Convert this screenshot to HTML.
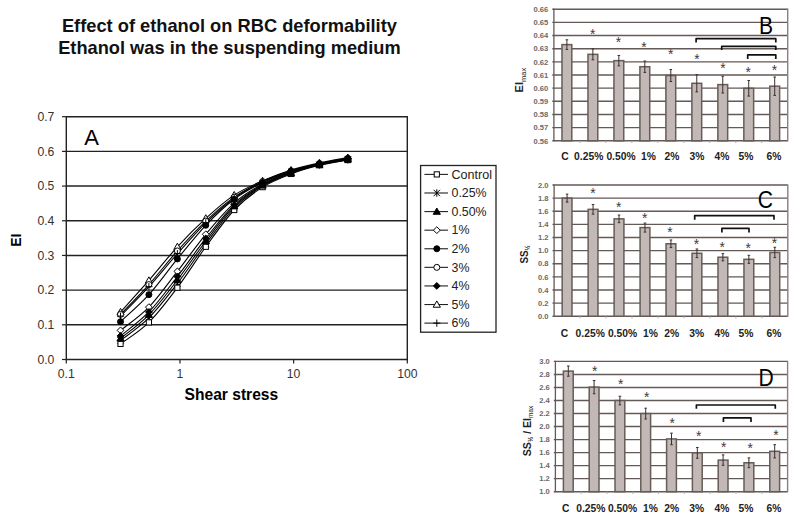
<!DOCTYPE html>
<html><head><meta charset="utf-8"><style>
html,body{margin:0;padding:0;background:#fff;}
svg{display:block;font-family:"Liberation Sans", sans-serif;}
</style></head><body>
<svg width="800" height="522" viewBox="0 0 800 522">
<rect width="800" height="522" fill="#fff"/>
<line x1="66.3" y1="324.81" x2="407.3" y2="324.81" stroke="#222" stroke-width="1.4"/>
<line x1="66.3" y1="290.13" x2="407.3" y2="290.13" stroke="#222" stroke-width="1.4"/>
<line x1="66.3" y1="255.44" x2="407.3" y2="255.44" stroke="#222" stroke-width="1.4"/>
<line x1="66.3" y1="220.76" x2="407.3" y2="220.76" stroke="#222" stroke-width="1.4"/>
<line x1="66.3" y1="186.07" x2="407.3" y2="186.07" stroke="#222" stroke-width="1.4"/>
<line x1="66.3" y1="151.39" x2="407.3" y2="151.39" stroke="#222" stroke-width="1.4"/>
<line x1="66.3" y1="116.70" x2="407.3" y2="116.70" stroke="#222" stroke-width="1.4"/>
<line x1="66.3" y1="116.0" x2="66.3" y2="360.2" stroke="#222" stroke-width="1.4"/>
<line x1="407.3" y1="116.0" x2="407.3" y2="360.2" stroke="#222" stroke-width="1.4"/>
<line x1="66.3" y1="359.5" x2="407.3" y2="359.5" stroke="#222" stroke-width="1.4"/>
<line x1="62.0" y1="359.50" x2="66.3" y2="359.50" stroke="#222" stroke-width="1.2"/>
<text x="54.4" y="363.80" text-anchor="end" font-size="12.2" fill="#333">0.0</text>
<line x1="62.0" y1="324.81" x2="66.3" y2="324.81" stroke="#222" stroke-width="1.2"/>
<text x="54.4" y="329.11" text-anchor="end" font-size="12.2" fill="#333">0.1</text>
<line x1="62.0" y1="290.13" x2="66.3" y2="290.13" stroke="#222" stroke-width="1.2"/>
<text x="54.4" y="294.43" text-anchor="end" font-size="12.2" fill="#333">0.2</text>
<line x1="62.0" y1="255.44" x2="66.3" y2="255.44" stroke="#222" stroke-width="1.2"/>
<text x="54.4" y="259.74" text-anchor="end" font-size="12.2" fill="#333">0.3</text>
<line x1="62.0" y1="220.76" x2="66.3" y2="220.76" stroke="#222" stroke-width="1.2"/>
<text x="54.4" y="225.06" text-anchor="end" font-size="12.2" fill="#333">0.4</text>
<line x1="62.0" y1="186.07" x2="66.3" y2="186.07" stroke="#222" stroke-width="1.2"/>
<text x="54.4" y="190.37" text-anchor="end" font-size="12.2" fill="#333">0.5</text>
<line x1="62.0" y1="151.39" x2="66.3" y2="151.39" stroke="#222" stroke-width="1.2"/>
<text x="54.4" y="155.69" text-anchor="end" font-size="12.2" fill="#333">0.6</text>
<line x1="62.0" y1="116.70" x2="66.3" y2="116.70" stroke="#222" stroke-width="1.2"/>
<text x="54.4" y="121.00" text-anchor="end" font-size="12.2" fill="#333">0.7</text>
<line x1="66.30" y1="359.5" x2="66.30" y2="363.5" stroke="#222" stroke-width="1.2"/>
<text x="66.30" y="378.2" text-anchor="middle" font-size="12.2" fill="#333">0.1</text>
<line x1="179.97" y1="359.5" x2="179.97" y2="363.5" stroke="#222" stroke-width="1.2"/>
<text x="179.97" y="378.2" text-anchor="middle" font-size="12.2" fill="#333">1</text>
<line x1="293.63" y1="359.5" x2="293.63" y2="363.5" stroke="#222" stroke-width="1.2"/>
<text x="293.63" y="378.2" text-anchor="middle" font-size="12.2" fill="#333">10</text>
<line x1="407.30" y1="359.5" x2="407.30" y2="363.5" stroke="#222" stroke-width="1.2"/>
<text x="407.30" y="378.2" text-anchor="middle" font-size="12.2" fill="#333">100</text>
<path d="M120.53,343.89 C125.26,340.31 139.43,331.75 148.90,322.39 C158.38,313.02 167.90,300.30 177.38,287.70 C186.86,275.10 196.31,259.72 205.78,246.77 C215.25,233.82 224.73,219.95 234.20,210.00 C243.66,200.06 253.10,193.12 262.57,187.11 C272.05,181.10 281.57,177.57 291.05,173.93 C300.53,170.29 309.98,167.57 319.45,165.26 C328.92,162.95 343.13,160.92 347.87,160.06" fill="none" stroke="#000" stroke-width="1.1"/>
<path d="M120.53,340.42 C125.26,336.67 139.43,327.36 148.90,317.88 C158.38,308.40 167.90,295.85 177.38,283.54 C186.86,271.22 196.31,256.60 205.78,244.00 C215.25,231.39 224.73,217.58 234.20,207.92 C243.66,198.27 253.10,191.85 262.57,186.07 C272.05,180.29 281.57,176.76 291.05,173.24 C300.53,169.71 309.98,167.17 319.45,164.91 C328.92,162.66 343.13,160.58 347.87,159.71" fill="none" stroke="#000" stroke-width="1.1"/>
<path d="M120.53,338.34 C125.26,334.41 139.43,324.47 148.90,314.76 C158.38,305.04 167.90,292.33 177.38,280.07 C186.86,267.81 196.31,253.54 205.78,241.22 C215.25,228.91 224.73,215.50 234.20,206.19 C243.66,196.88 253.10,190.93 262.57,185.38 C272.05,179.83 281.57,176.36 291.05,172.89 C300.53,169.42 309.98,166.82 319.45,164.57 C328.92,162.31 343.13,160.23 347.87,159.36" fill="none" stroke="#000" stroke-width="1.1"/>
<path d="M120.53,330.36 C125.26,326.49 139.43,316.95 148.90,307.12 C158.38,297.30 167.90,283.54 177.38,271.40 C186.86,259.26 196.31,245.67 205.78,234.28 C215.25,222.90 224.73,211.45 234.20,203.07 C243.66,194.69 253.10,189.19 262.57,183.99 C272.05,178.79 281.57,175.15 291.05,171.85 C300.53,168.56 309.98,166.36 319.45,164.22 C328.92,162.08 343.13,159.88 347.87,159.02" fill="none" stroke="#000" stroke-width="1.1"/>
<path d="M120.53,321.69 C125.26,317.18 139.43,305.10 148.90,294.64 C158.38,284.17 167.90,270.47 177.38,258.91 C186.86,247.35 196.31,235.21 205.78,225.27 C215.25,215.32 224.73,206.36 234.20,199.25 C243.66,192.14 253.10,187.29 262.57,182.60 C272.05,177.92 281.57,174.28 291.05,171.16 C300.53,168.03 309.98,165.95 319.45,163.87 C328.92,161.79 343.13,159.54 347.87,158.67" fill="none" stroke="#000" stroke-width="1.1"/>
<path d="M120.53,314.41 C125.26,309.44 139.43,295.16 148.90,284.58 C158.38,274.00 167.90,261.51 177.38,250.93 C186.86,240.35 196.31,230.06 205.78,221.10 C215.25,212.14 224.73,203.76 234.20,197.17 C243.66,190.58 253.10,185.96 262.57,181.56 C272.05,177.17 281.57,173.82 291.05,170.81 C300.53,167.80 309.98,165.61 319.45,163.53 C328.92,161.44 343.13,159.19 347.87,158.32" fill="none" stroke="#000" stroke-width="1.1"/>
<path d="M120.53,335.91 C125.26,331.92 139.43,321.87 148.90,311.98 C158.38,302.10 167.90,288.86 177.38,276.60 C186.86,264.35 196.31,250.41 205.78,238.45 C215.25,226.48 224.73,213.76 234.20,204.80 C243.66,195.84 253.10,190.12 262.57,184.68 C272.05,179.25 281.57,175.55 291.05,172.20 C300.53,168.84 309.98,166.76 319.45,164.57 C328.92,162.37 343.13,159.94 347.87,159.02" fill="none" stroke="#000" stroke-width="1.1"/>
<path d="M120.53,311.98 C125.26,306.72 139.43,291.28 148.90,280.42 C158.38,269.55 167.90,257.12 177.38,246.77 C186.86,236.42 196.31,226.94 205.78,218.33 C215.25,209.72 224.73,201.33 234.20,195.09 C243.66,188.85 253.10,185.03 262.57,180.87 C272.05,176.71 281.57,173.12 291.05,170.12 C300.53,167.11 309.98,164.91 319.45,162.83 C328.92,160.75 343.13,158.50 347.87,157.63" fill="none" stroke="#000" stroke-width="1.1"/>
<path d="M120.53,316.14 C125.26,311.23 139.43,297.07 148.90,286.66 C158.38,276.25 167.90,264.35 177.38,253.71 C186.86,243.07 196.31,232.09 205.78,222.84 C215.25,213.59 224.73,205.03 234.20,198.21 C243.66,191.39 253.10,186.48 262.57,181.91 C272.05,177.34 281.57,173.87 291.05,170.81 C300.53,167.75 309.98,165.61 319.45,163.53 C328.92,161.44 343.13,159.19 347.87,158.32" fill="none" stroke="#000" stroke-width="1.1"/>
<path d="M120.53,308.38L124.13,314.68L116.93,314.68Z" fill="#fff" stroke="#000" stroke-width="1"/>
<path d="M148.90,276.82L152.50,283.12L145.30,283.12Z" fill="#fff" stroke="#000" stroke-width="1"/>
<path d="M177.38,243.17L180.98,249.47L173.78,249.47Z" fill="#fff" stroke="#000" stroke-width="1"/>
<path d="M205.78,214.73L209.38,221.03L202.18,221.03Z" fill="#fff" stroke="#000" stroke-width="1"/>
<path d="M234.20,191.49L237.80,197.79L230.60,197.79Z" fill="#fff" stroke="#000" stroke-width="1"/>
<path d="M262.57,177.27L266.17,183.57L258.97,183.57Z" fill="#fff" stroke="#000" stroke-width="1"/>
<path d="M291.05,166.52L294.65,172.82L287.45,172.82Z" fill="#fff" stroke="#000" stroke-width="1"/>
<path d="M319.45,159.23L323.05,165.53L315.85,165.53Z" fill="#fff" stroke="#000" stroke-width="1"/>
<path d="M347.87,154.03L351.47,160.33L344.27,160.33Z" fill="#fff" stroke="#000" stroke-width="1"/>
<circle cx="120.53" cy="314.41" r="3.00" fill="#fff" stroke="#000" stroke-width="1"/>
<circle cx="148.90" cy="284.58" r="3.00" fill="#fff" stroke="#000" stroke-width="1"/>
<circle cx="177.38" cy="250.93" r="3.00" fill="#fff" stroke="#000" stroke-width="1"/>
<circle cx="205.78" cy="221.10" r="3.00" fill="#fff" stroke="#000" stroke-width="1"/>
<circle cx="234.20" cy="197.17" r="3.00" fill="#fff" stroke="#000" stroke-width="1"/>
<circle cx="262.57" cy="181.56" r="3.00" fill="#fff" stroke="#000" stroke-width="1"/>
<circle cx="291.05" cy="170.81" r="3.00" fill="#fff" stroke="#000" stroke-width="1"/>
<circle cx="319.45" cy="163.53" r="3.00" fill="#fff" stroke="#000" stroke-width="1"/>
<circle cx="347.87" cy="158.32" r="3.00" fill="#fff" stroke="#000" stroke-width="1"/>
<path d="M120.53,326.96L123.93,330.36L120.53,333.76L117.13,330.36Z" fill="#fff" stroke="#000" stroke-width="1"/>
<path d="M148.90,303.72L152.30,307.12L148.90,310.52L145.50,307.12Z" fill="#fff" stroke="#000" stroke-width="1"/>
<path d="M177.38,268.00L180.78,271.40L177.38,274.80L173.98,271.40Z" fill="#fff" stroke="#000" stroke-width="1"/>
<path d="M205.78,230.88L209.18,234.28L205.78,237.68L202.38,234.28Z" fill="#fff" stroke="#000" stroke-width="1"/>
<path d="M234.20,199.67L237.60,203.07L234.20,206.47L230.80,203.07Z" fill="#fff" stroke="#000" stroke-width="1"/>
<path d="M262.57,180.59L265.97,183.99L262.57,187.39L259.17,183.99Z" fill="#fff" stroke="#000" stroke-width="1"/>
<path d="M291.05,168.45L294.45,171.85L291.05,175.25L287.65,171.85Z" fill="#fff" stroke="#000" stroke-width="1"/>
<path d="M319.45,160.82L322.85,164.22L319.45,167.62L316.05,164.22Z" fill="#fff" stroke="#000" stroke-width="1"/>
<path d="M347.87,155.62L351.27,159.02L347.87,162.42L344.47,159.02Z" fill="#fff" stroke="#000" stroke-width="1"/>
<path d="M120.53,312.54L120.53,319.74M116.93,316.14L124.13,316.14" stroke="#000" stroke-width="1" fill="none"/>
<path d="M148.90,283.06L148.90,290.26M145.30,286.66L152.50,286.66" stroke="#000" stroke-width="1" fill="none"/>
<path d="M177.38,250.11L177.38,257.31M173.78,253.71L180.98,253.71" stroke="#000" stroke-width="1" fill="none"/>
<path d="M205.78,219.24L205.78,226.44M202.18,222.84L209.38,222.84" stroke="#000" stroke-width="1" fill="none"/>
<path d="M234.20,194.61L234.20,201.81M230.60,198.21L237.80,198.21" stroke="#000" stroke-width="1" fill="none"/>
<path d="M262.57,178.31L262.57,185.51M258.97,181.91L266.17,181.91" stroke="#000" stroke-width="1" fill="none"/>
<path d="M291.05,167.21L291.05,174.41M287.45,170.81L294.65,170.81" stroke="#000" stroke-width="1" fill="none"/>
<path d="M319.45,159.93L319.45,167.13M315.85,163.53L323.05,163.53" stroke="#000" stroke-width="1" fill="none"/>
<path d="M347.87,154.72L347.87,161.92M344.27,158.32L351.47,158.32" stroke="#000" stroke-width="1" fill="none"/>
<path d="M117.33,337.22L123.73,343.62M117.33,343.62L123.73,337.22M120.53,336.72L120.53,344.12" stroke="#000" stroke-width="1" fill="none"/>
<path d="M145.70,314.68L152.10,321.08M145.70,321.08L152.10,314.68M148.90,314.18L148.90,321.58" stroke="#000" stroke-width="1" fill="none"/>
<path d="M174.18,280.34L180.58,286.74M174.18,286.74L180.58,280.34M177.38,279.84L177.38,287.24" stroke="#000" stroke-width="1" fill="none"/>
<path d="M202.58,240.80L208.98,247.20M202.58,247.20L208.98,240.80M205.78,240.30L205.78,247.70" stroke="#000" stroke-width="1" fill="none"/>
<path d="M231.00,204.72L237.40,211.12M231.00,211.12L237.40,204.72M234.20,204.22L234.20,211.62" stroke="#000" stroke-width="1" fill="none"/>
<path d="M259.37,182.87L265.77,189.27M259.37,189.27L265.77,182.87M262.57,182.37L262.57,189.77" stroke="#000" stroke-width="1" fill="none"/>
<path d="M287.85,170.04L294.25,176.44M287.85,176.44L294.25,170.04M291.05,169.54L291.05,176.94" stroke="#000" stroke-width="1" fill="none"/>
<path d="M316.25,161.71L322.65,168.11M316.25,168.11L322.65,161.71M319.45,161.21L319.45,168.61" stroke="#000" stroke-width="1" fill="none"/>
<path d="M344.67,156.51L351.07,162.91M344.67,162.91L351.07,156.51M347.87,156.01L347.87,163.41" stroke="#000" stroke-width="1" fill="none"/>
<rect x="117.93" y="341.29" width="5.20" height="5.20" fill="#fff" stroke="#000" stroke-width="1"/>
<rect x="146.30" y="319.79" width="5.20" height="5.20" fill="#fff" stroke="#000" stroke-width="1"/>
<rect x="174.78" y="285.10" width="5.20" height="5.20" fill="#fff" stroke="#000" stroke-width="1"/>
<rect x="203.18" y="244.17" width="5.20" height="5.20" fill="#fff" stroke="#000" stroke-width="1"/>
<rect x="231.60" y="207.40" width="5.20" height="5.20" fill="#fff" stroke="#000" stroke-width="1"/>
<rect x="259.97" y="184.51" width="5.20" height="5.20" fill="#fff" stroke="#000" stroke-width="1"/>
<rect x="288.45" y="171.33" width="5.20" height="5.20" fill="#fff" stroke="#000" stroke-width="1"/>
<rect x="316.85" y="162.66" width="5.20" height="5.20" fill="#fff" stroke="#000" stroke-width="1"/>
<rect x="345.27" y="157.46" width="5.20" height="5.20" fill="#fff" stroke="#000" stroke-width="1"/>
<path d="M120.53,334.74L124.13,341.04L116.93,341.04Z" fill="#000" stroke="#000" stroke-width="1"/>
<path d="M148.90,311.16L152.50,317.46L145.30,317.46Z" fill="#000" stroke="#000" stroke-width="1"/>
<path d="M177.38,276.47L180.98,282.77L173.78,282.77Z" fill="#000" stroke="#000" stroke-width="1"/>
<path d="M205.78,237.62L209.38,243.92L202.18,243.92Z" fill="#000" stroke="#000" stroke-width="1"/>
<path d="M234.20,202.59L237.80,208.89L230.60,208.89Z" fill="#000" stroke="#000" stroke-width="1"/>
<path d="M262.57,181.78L266.17,188.08L258.97,188.08Z" fill="#000" stroke="#000" stroke-width="1"/>
<path d="M291.05,169.29L294.65,175.59L287.45,175.59Z" fill="#000" stroke="#000" stroke-width="1"/>
<path d="M319.45,160.97L323.05,167.27L315.85,167.27Z" fill="#000" stroke="#000" stroke-width="1"/>
<path d="M347.87,155.76L351.47,162.06L344.27,162.06Z" fill="#000" stroke="#000" stroke-width="1"/>
<path d="M120.53,332.51L123.93,335.91L120.53,339.31L117.13,335.91Z" fill="#000" stroke="#000" stroke-width="1"/>
<path d="M148.90,308.58L152.30,311.98L148.90,315.38L145.50,311.98Z" fill="#000" stroke="#000" stroke-width="1"/>
<path d="M177.38,273.20L180.78,276.60L177.38,280.00L173.98,276.60Z" fill="#000" stroke="#000" stroke-width="1"/>
<path d="M205.78,235.05L209.18,238.45L205.78,241.85L202.38,238.45Z" fill="#000" stroke="#000" stroke-width="1"/>
<path d="M234.20,201.40L237.60,204.80L234.20,208.20L230.80,204.80Z" fill="#000" stroke="#000" stroke-width="1"/>
<path d="M262.57,181.28L265.97,184.68L262.57,188.08L259.17,184.68Z" fill="#000" stroke="#000" stroke-width="1"/>
<path d="M291.05,168.80L294.45,172.20L291.05,175.60L287.65,172.20Z" fill="#000" stroke="#000" stroke-width="1"/>
<path d="M319.45,161.17L322.85,164.57L319.45,167.97L316.05,164.57Z" fill="#000" stroke="#000" stroke-width="1"/>
<path d="M347.87,155.62L351.27,159.02L347.87,162.42L344.47,159.02Z" fill="#000" stroke="#000" stroke-width="1"/>
<circle cx="120.53" cy="321.69" r="3.00" fill="#000" stroke="#000" stroke-width="1"/>
<circle cx="148.90" cy="294.64" r="3.00" fill="#000" stroke="#000" stroke-width="1"/>
<circle cx="177.38" cy="258.91" r="3.00" fill="#000" stroke="#000" stroke-width="1"/>
<circle cx="205.78" cy="225.27" r="3.00" fill="#000" stroke="#000" stroke-width="1"/>
<circle cx="234.20" cy="199.25" r="3.00" fill="#000" stroke="#000" stroke-width="1"/>
<circle cx="262.57" cy="182.60" r="3.00" fill="#000" stroke="#000" stroke-width="1"/>
<circle cx="291.05" cy="171.16" r="3.00" fill="#000" stroke="#000" stroke-width="1"/>
<circle cx="319.45" cy="163.87" r="3.00" fill="#000" stroke="#000" stroke-width="1"/>
<circle cx="347.87" cy="158.67" r="3.00" fill="#000" stroke="#000" stroke-width="1"/>
<text x="84.2" y="145.2" font-size="22" fill="#000">A</text>
<text x="231.4" y="400.4" text-anchor="middle" font-size="15.6" font-weight="bold" fill="#000">Shear stress</text>
<text transform="translate(20.8,240.3) rotate(-90) scale(0.92,1)" text-anchor="middle" font-size="15" font-weight="bold" fill="#000">EI</text>
<text x="61.9" y="31.6" font-size="17.7" font-weight="bold" fill="#111" textLength="335" lengthAdjust="spacingAndGlyphs">Effect of ethanol on RBC deformability</text>
<text x="58.2" y="54.1" font-size="17.7" font-weight="bold" fill="#111" textLength="342.5" lengthAdjust="spacingAndGlyphs">Ethanol was in the suspending medium</text>
<rect x="420.6" y="165.5" width="75.4" height="166.7" fill="#fff" stroke="#222" stroke-width="1.3"/>
<line x1="424.4" y1="174.40" x2="448" y2="174.40" stroke="#222" stroke-width="1.1"/>
<rect x="434.20" y="171.80" width="5.20" height="5.20" fill="#fff" stroke="#000" stroke-width="1"/>
<text x="451.5" y="178.70" font-size="12.4" fill="#222" textLength="40.5" lengthAdjust="spacingAndGlyphs">Control</text>
<line x1="424.4" y1="192.99" x2="448" y2="192.99" stroke="#222" stroke-width="1.1"/>
<path d="M433.60,189.79L440.00,196.19M433.60,196.19L440.00,189.79M436.80,189.29L436.80,196.69" stroke="#000" stroke-width="1" fill="none"/>
<text x="451.5" y="197.29" font-size="12.4" fill="#222">0.25%</text>
<line x1="424.4" y1="211.58" x2="448" y2="211.58" stroke="#222" stroke-width="1.1"/>
<path d="M436.80,207.98L440.40,214.28L433.20,214.28Z" fill="#000" stroke="#000" stroke-width="1"/>
<text x="451.5" y="215.88" font-size="12.4" fill="#222">0.50%</text>
<line x1="424.4" y1="230.17" x2="448" y2="230.17" stroke="#222" stroke-width="1.1"/>
<path d="M436.80,226.77L440.20,230.17L436.80,233.57L433.40,230.17Z" fill="#fff" stroke="#000" stroke-width="1"/>
<text x="451.5" y="234.47" font-size="12.4" fill="#222">1%</text>
<line x1="424.4" y1="248.76" x2="448" y2="248.76" stroke="#222" stroke-width="1.1"/>
<circle cx="436.80" cy="248.76" r="3.00" fill="#000" stroke="#000" stroke-width="1"/>
<text x="451.5" y="253.06" font-size="12.4" fill="#222">2%</text>
<line x1="424.4" y1="267.35" x2="448" y2="267.35" stroke="#222" stroke-width="1.1"/>
<circle cx="436.80" cy="267.35" r="3.00" fill="#fff" stroke="#000" stroke-width="1"/>
<text x="451.5" y="271.65" font-size="12.4" fill="#222">3%</text>
<line x1="424.4" y1="285.94" x2="448" y2="285.94" stroke="#222" stroke-width="1.1"/>
<path d="M436.80,282.54L440.20,285.94L436.80,289.34L433.40,285.94Z" fill="#000" stroke="#000" stroke-width="1"/>
<text x="451.5" y="290.24" font-size="12.4" fill="#222">4%</text>
<line x1="424.4" y1="304.53" x2="448" y2="304.53" stroke="#222" stroke-width="1.1"/>
<path d="M436.80,300.93L440.40,307.23L433.20,307.23Z" fill="#fff" stroke="#000" stroke-width="1"/>
<text x="451.5" y="308.83" font-size="12.4" fill="#222">5%</text>
<line x1="424.4" y1="323.12" x2="448" y2="323.12" stroke="#222" stroke-width="1.1"/>
<path d="M436.80,319.52L436.80,326.72M433.20,323.12L440.40,323.12" stroke="#000" stroke-width="1" fill="none"/>
<text x="451.5" y="327.42" font-size="12.4" fill="#222">6%</text>
<line x1="552.3" y1="9.20" x2="787.7" y2="9.20" stroke="#635956" stroke-width="1.4"/>
<text x="548.30" y="11.90" text-anchor="end" font-size="7.6" font-weight="bold" fill="#6a6a6a">0.66</text>
<line x1="552.3" y1="22.36" x2="787.7" y2="22.36" stroke="#635956" stroke-width="1.4"/>
<text x="548.30" y="25.06" text-anchor="end" font-size="7.6" font-weight="bold" fill="#6a6a6a">0.65</text>
<line x1="552.3" y1="35.52" x2="787.7" y2="35.52" stroke="#635956" stroke-width="1.4"/>
<text x="548.30" y="38.22" text-anchor="end" font-size="7.6" font-weight="bold" fill="#6a6a6a">0.64</text>
<line x1="552.3" y1="48.68" x2="787.7" y2="48.68" stroke="#635956" stroke-width="1.4"/>
<text x="548.30" y="51.38" text-anchor="end" font-size="7.6" font-weight="bold" fill="#6a6a6a">0.63</text>
<line x1="552.3" y1="61.84" x2="787.7" y2="61.84" stroke="#635956" stroke-width="1.4"/>
<text x="548.30" y="64.54" text-anchor="end" font-size="7.6" font-weight="bold" fill="#6a6a6a">0.62</text>
<line x1="552.3" y1="75.00" x2="787.7" y2="75.00" stroke="#635956" stroke-width="1.4"/>
<text x="548.30" y="77.70" text-anchor="end" font-size="7.6" font-weight="bold" fill="#6a6a6a">0.61</text>
<line x1="552.3" y1="88.16" x2="787.7" y2="88.16" stroke="#635956" stroke-width="1.4"/>
<text x="548.30" y="90.86" text-anchor="end" font-size="7.6" font-weight="bold" fill="#6a6a6a">0.60</text>
<line x1="552.3" y1="101.32" x2="787.7" y2="101.32" stroke="#635956" stroke-width="1.4"/>
<text x="548.30" y="104.02" text-anchor="end" font-size="7.6" font-weight="bold" fill="#6a6a6a">0.59</text>
<line x1="552.3" y1="114.48" x2="787.7" y2="114.48" stroke="#635956" stroke-width="1.4"/>
<text x="548.30" y="117.18" text-anchor="end" font-size="7.6" font-weight="bold" fill="#6a6a6a">0.58</text>
<line x1="552.3" y1="127.64" x2="787.7" y2="127.64" stroke="#635956" stroke-width="1.4"/>
<text x="548.30" y="130.34" text-anchor="end" font-size="7.6" font-weight="bold" fill="#6a6a6a">0.57</text>
<line x1="552.3" y1="140.80" x2="787.7" y2="140.80" stroke="#635956" stroke-width="1.4"/>
<text x="548.30" y="143.50" text-anchor="end" font-size="7.6" font-weight="bold" fill="#6a6a6a">0.56</text>
<line x1="553.9" y1="8.6" x2="553.9" y2="141.4" stroke="#635956" stroke-width="1.3"/>
<line x1="787.7" y1="8.6" x2="787.7" y2="141.4" stroke="#8a807c" stroke-width="1.4"/>
<line x1="579.88" y1="140.8" x2="579.88" y2="143.0" stroke="#aaa" stroke-width="1"/>
<line x1="605.86" y1="140.8" x2="605.86" y2="143.0" stroke="#aaa" stroke-width="1"/>
<line x1="631.83" y1="140.8" x2="631.83" y2="143.0" stroke="#aaa" stroke-width="1"/>
<line x1="657.81" y1="140.8" x2="657.81" y2="143.0" stroke="#aaa" stroke-width="1"/>
<line x1="683.79" y1="140.8" x2="683.79" y2="143.0" stroke="#aaa" stroke-width="1"/>
<line x1="709.77" y1="140.8" x2="709.77" y2="143.0" stroke="#aaa" stroke-width="1"/>
<line x1="735.74" y1="140.8" x2="735.74" y2="143.0" stroke="#aaa" stroke-width="1"/>
<line x1="761.72" y1="140.8" x2="761.72" y2="143.0" stroke="#aaa" stroke-width="1"/>
<rect x="561.99" y="44.60" width="9.8" height="96.20" fill="#c2b9b6" stroke="#665c58" stroke-width="1.5"/>
<path d="M566.89,39.80V49.40M565.59,39.80H568.19M565.59,49.40H568.19" stroke="#3a3030" stroke-width="1" fill="none"/>
<rect x="587.97" y="54.34" width="9.8" height="86.46" fill="#c2b9b6" stroke="#665c58" stroke-width="1.5"/>
<path d="M592.87,48.84V59.84M591.57,48.84H594.17M591.57,59.84H594.17" stroke="#3a3030" stroke-width="1" fill="none"/>
<rect x="613.94" y="60.66" width="9.8" height="80.14" fill="#c2b9b6" stroke="#665c58" stroke-width="1.5"/>
<path d="M618.84,55.46V65.86M617.54,55.46H620.14M617.54,65.86H620.14" stroke="#3a3030" stroke-width="1" fill="none"/>
<rect x="639.92" y="66.71" width="9.8" height="74.09" fill="#c2b9b6" stroke="#665c58" stroke-width="1.5"/>
<path d="M644.82,61.01V72.41M643.52,61.01H646.12M643.52,72.41H646.12" stroke="#3a3030" stroke-width="1" fill="none"/>
<rect x="665.90" y="75.53" width="9.8" height="65.27" fill="#c2b9b6" stroke="#665c58" stroke-width="1.5"/>
<path d="M670.80,69.53V81.53M669.50,69.53H672.10M669.50,81.53H672.10" stroke="#3a3030" stroke-width="1" fill="none"/>
<rect x="691.88" y="83.29" width="9.8" height="57.51" fill="#c2b9b6" stroke="#665c58" stroke-width="1.5"/>
<path d="M696.78,74.69V91.89M695.48,74.69H698.08M695.48,91.89H698.08" stroke="#3a3030" stroke-width="1" fill="none"/>
<rect x="717.86" y="84.61" width="9.8" height="56.19" fill="#c2b9b6" stroke="#665c58" stroke-width="1.5"/>
<path d="M722.76,76.21V93.01M721.46,76.21H724.06M721.46,93.01H724.06" stroke="#3a3030" stroke-width="1" fill="none"/>
<rect x="743.83" y="88.29" width="9.8" height="52.51" fill="#c2b9b6" stroke="#665c58" stroke-width="1.5"/>
<path d="M748.73,80.49V96.09M747.43,80.49H750.03M747.43,96.09H750.03" stroke="#3a3030" stroke-width="1" fill="none"/>
<rect x="769.81" y="86.19" width="9.8" height="54.61" fill="#c2b9b6" stroke="#665c58" stroke-width="1.5"/>
<path d="M774.71,76.99V95.39M773.41,76.99H776.01M773.41,95.39H776.01" stroke="#3a3030" stroke-width="1" fill="none"/>
<text x="592.60" y="39.00" text-anchor="middle" font-size="13.8" fill="#3a3a3a">*</text>
<text x="618.50" y="46.90" text-anchor="middle" font-size="13.8" fill="#3a3a3a">*</text>
<text x="644.00" y="51.60" text-anchor="middle" font-size="13.8" fill="#3a3a3a">*</text>
<text x="670.60" y="58.90" text-anchor="middle" font-size="13.8" fill="#3a3a3a">*</text>
<text x="696.90" y="64.30" text-anchor="middle" font-size="13.8" fill="#3a3a3a">*</text>
<text x="722.90" y="72.70" text-anchor="middle" font-size="13.8" fill="#3a3a3a">*</text>
<text x="748.20" y="77.30" text-anchor="middle" font-size="13.8" fill="#3a3a3a">*</text>
<text x="774.50" y="75.30" text-anchor="middle" font-size="13.8" fill="#3a3a3a">*</text>
<path d="M696.1,42.6V38.7H775.8V42.6" fill="none" stroke="#111" stroke-width="1.7" stroke-linejoin="round"/>
<path d="M721.7,50V46.4H775.8V50" fill="none" stroke="#111" stroke-width="1.7" stroke-linejoin="round"/>
<path d="M747.7,59V54.9H775.8V59" fill="none" stroke="#111" stroke-width="1.7" stroke-linejoin="round"/>
<text transform="translate(758.9,33.8) scale(0.915,1)" font-size="23" fill="#000">B</text>
<text x="561.2" y="159.5" font-size="10.3" font-weight="bold" fill="#222">C</text>
<text x="574.1" y="159.5" font-size="10.3" font-weight="bold" fill="#222">0.25%</text>
<text x="606.4" y="159.5" font-size="10.3" font-weight="bold" fill="#222">0.50%</text>
<text x="641" y="159.5" font-size="10.3" font-weight="bold" fill="#222">1%</text>
<text x="664.6" y="159.5" font-size="10.3" font-weight="bold" fill="#222">2%</text>
<text x="689.5" y="159.5" font-size="10.3" font-weight="bold" fill="#222">3%</text>
<text x="714.5" y="159.5" font-size="10.3" font-weight="bold" fill="#222">4%</text>
<text x="738.6" y="159.5" font-size="10.3" font-weight="bold" fill="#222">5%</text>
<text x="766.5" y="159.5" font-size="10.3" font-weight="bold" fill="#222">6%</text>
<text transform="translate(523.4,92.4) rotate(-90)" font-size="11" font-weight="bold" fill="#222">EI<tspan font-size="7.5" font-weight="normal" dy="2.5">max</tspan></text>
<line x1="552.5" y1="185.00" x2="787.8" y2="185.00" stroke="#635956" stroke-width="1.4"/>
<text x="548.50" y="187.70" text-anchor="end" font-size="7.6" font-weight="bold" fill="#6a6a6a">2.0</text>
<line x1="552.5" y1="198.12" x2="787.8" y2="198.12" stroke="#635956" stroke-width="1.4"/>
<text x="548.50" y="200.82" text-anchor="end" font-size="7.6" font-weight="bold" fill="#6a6a6a">1.8</text>
<line x1="552.5" y1="211.24" x2="787.8" y2="211.24" stroke="#635956" stroke-width="1.4"/>
<text x="548.50" y="213.94" text-anchor="end" font-size="7.6" font-weight="bold" fill="#6a6a6a">1.6</text>
<line x1="552.5" y1="224.36" x2="787.8" y2="224.36" stroke="#635956" stroke-width="1.4"/>
<text x="548.50" y="227.06" text-anchor="end" font-size="7.6" font-weight="bold" fill="#6a6a6a">1.4</text>
<line x1="552.5" y1="237.48" x2="787.8" y2="237.48" stroke="#635956" stroke-width="1.4"/>
<text x="548.50" y="240.18" text-anchor="end" font-size="7.6" font-weight="bold" fill="#6a6a6a">1.2</text>
<line x1="552.5" y1="250.60" x2="787.8" y2="250.60" stroke="#635956" stroke-width="1.4"/>
<text x="548.50" y="253.30" text-anchor="end" font-size="7.6" font-weight="bold" fill="#6a6a6a">1.0</text>
<line x1="552.5" y1="263.72" x2="787.8" y2="263.72" stroke="#635956" stroke-width="1.4"/>
<text x="548.50" y="266.42" text-anchor="end" font-size="7.6" font-weight="bold" fill="#6a6a6a">0.8</text>
<line x1="552.5" y1="276.84" x2="787.8" y2="276.84" stroke="#635956" stroke-width="1.4"/>
<text x="548.50" y="279.54" text-anchor="end" font-size="7.6" font-weight="bold" fill="#6a6a6a">0.6</text>
<line x1="552.5" y1="289.96" x2="787.8" y2="289.96" stroke="#635956" stroke-width="1.4"/>
<text x="548.50" y="292.66" text-anchor="end" font-size="7.6" font-weight="bold" fill="#6a6a6a">0.4</text>
<line x1="552.5" y1="303.08" x2="787.8" y2="303.08" stroke="#635956" stroke-width="1.4"/>
<text x="548.50" y="305.78" text-anchor="end" font-size="7.6" font-weight="bold" fill="#6a6a6a">0.2</text>
<line x1="552.5" y1="316.20" x2="787.8" y2="316.20" stroke="#635956" stroke-width="1.4"/>
<text x="548.50" y="318.90" text-anchor="end" font-size="7.6" font-weight="bold" fill="#6a6a6a">0.0</text>
<line x1="554.1" y1="184.4" x2="554.1" y2="316.8" stroke="#635956" stroke-width="1.3"/>
<line x1="787.8" y1="184.4" x2="787.8" y2="316.8" stroke="#8a807c" stroke-width="1.4"/>
<line x1="580.07" y1="316.2" x2="580.07" y2="318.4" stroke="#aaa" stroke-width="1"/>
<line x1="606.03" y1="316.2" x2="606.03" y2="318.4" stroke="#aaa" stroke-width="1"/>
<line x1="632.00" y1="316.2" x2="632.00" y2="318.4" stroke="#aaa" stroke-width="1"/>
<line x1="657.97" y1="316.2" x2="657.97" y2="318.4" stroke="#aaa" stroke-width="1"/>
<line x1="683.93" y1="316.2" x2="683.93" y2="318.4" stroke="#aaa" stroke-width="1"/>
<line x1="709.90" y1="316.2" x2="709.90" y2="318.4" stroke="#aaa" stroke-width="1"/>
<line x1="735.87" y1="316.2" x2="735.87" y2="318.4" stroke="#aaa" stroke-width="1"/>
<line x1="761.83" y1="316.2" x2="761.83" y2="318.4" stroke="#aaa" stroke-width="1"/>
<rect x="562.18" y="198.12" width="9.8" height="118.08" fill="#c2b9b6" stroke="#665c58" stroke-width="1.5"/>
<path d="M567.08,194.12V202.12M565.78,194.12H568.38M565.78,202.12H568.38" stroke="#3a3030" stroke-width="1" fill="none"/>
<rect x="588.15" y="209.34" width="9.8" height="106.86" fill="#c2b9b6" stroke="#665c58" stroke-width="1.5"/>
<path d="M593.05,204.54V214.14M591.75,204.54H594.35M591.75,214.14H594.35" stroke="#3a3030" stroke-width="1" fill="none"/>
<rect x="614.12" y="218.85" width="9.8" height="97.35" fill="#c2b9b6" stroke="#665c58" stroke-width="1.5"/>
<path d="M619.02,215.05V222.65M617.72,215.05H620.32M617.72,222.65H620.32" stroke="#3a3030" stroke-width="1" fill="none"/>
<rect x="640.08" y="227.57" width="9.8" height="88.63" fill="#c2b9b6" stroke="#665c58" stroke-width="1.5"/>
<path d="M644.98,223.07V232.07M643.68,223.07H646.28M643.68,232.07H646.28" stroke="#3a3030" stroke-width="1" fill="none"/>
<rect x="666.05" y="243.78" width="9.8" height="72.42" fill="#c2b9b6" stroke="#665c58" stroke-width="1.5"/>
<path d="M670.95,239.98V247.58M669.65,239.98H672.25M669.65,247.58H672.25" stroke="#3a3030" stroke-width="1" fill="none"/>
<rect x="692.02" y="253.29" width="9.8" height="62.91" fill="#c2b9b6" stroke="#665c58" stroke-width="1.5"/>
<path d="M696.92,248.99V257.59M695.62,248.99H698.22M695.62,257.59H698.22" stroke="#3a3030" stroke-width="1" fill="none"/>
<rect x="717.98" y="257.23" width="9.8" height="58.97" fill="#c2b9b6" stroke="#665c58" stroke-width="1.5"/>
<path d="M722.88,253.63V260.83M721.58,253.63H724.18M721.58,260.83H724.18" stroke="#3a3030" stroke-width="1" fill="none"/>
<rect x="743.95" y="259.32" width="9.8" height="56.88" fill="#c2b9b6" stroke="#665c58" stroke-width="1.5"/>
<path d="M748.85,255.32V263.32M747.55,255.32H750.15M747.55,263.32H750.15" stroke="#3a3030" stroke-width="1" fill="none"/>
<rect x="769.92" y="252.44" width="9.8" height="63.76" fill="#c2b9b6" stroke="#665c58" stroke-width="1.5"/>
<path d="M774.82,247.24V257.64M773.52,247.24H776.12M773.52,257.64H776.12" stroke="#3a3030" stroke-width="1" fill="none"/>
<text x="592.90" y="198.20" text-anchor="middle" font-size="13.8" fill="#3a3a3a">*</text>
<text x="618.60" y="211.60" text-anchor="middle" font-size="13.8" fill="#3a3a3a">*</text>
<text x="644.60" y="223.30" text-anchor="middle" font-size="13.8" fill="#3a3a3a">*</text>
<text x="669.90" y="236.70" text-anchor="middle" font-size="13.8" fill="#3a3a3a">*</text>
<text x="696.40" y="249.20" text-anchor="middle" font-size="13.8" fill="#3a3a3a">*</text>
<text x="722.20" y="251.80" text-anchor="middle" font-size="13.8" fill="#3a3a3a">*</text>
<text x="748.10" y="252.50" text-anchor="middle" font-size="13.8" fill="#3a3a3a">*</text>
<text x="774.50" y="247.80" text-anchor="middle" font-size="13.8" fill="#3a3a3a">*</text>
<path d="M694.7,219.7V215.7H774V219.7" fill="none" stroke="#111" stroke-width="1.7" stroke-linejoin="round"/>
<path d="M721.9,232.6V228.3H749V232.6" fill="none" stroke="#111" stroke-width="1.7" stroke-linejoin="round"/>
<text transform="translate(757.7,207.9) scale(0.915,1)" font-size="23" fill="#000">C</text>
<text x="560.7" y="336.5" font-size="10.3" font-weight="bold" fill="#222">C</text>
<text x="575.6" y="336.5" font-size="10.3" font-weight="bold" fill="#222">0.25%</text>
<text x="607.9" y="336.5" font-size="10.3" font-weight="bold" fill="#222">0.50%</text>
<text x="643.1" y="336.5" font-size="10.3" font-weight="bold" fill="#222">1%</text>
<text x="664.3" y="336.5" font-size="10.3" font-weight="bold" fill="#222">2%</text>
<text x="689.3" y="336.5" font-size="10.3" font-weight="bold" fill="#222">3%</text>
<text x="714.5" y="336.5" font-size="10.3" font-weight="bold" fill="#222">4%</text>
<text x="738.6" y="336.5" font-size="10.3" font-weight="bold" fill="#222">5%</text>
<text x="766.5" y="336.5" font-size="10.3" font-weight="bold" fill="#222">6%</text>
<text transform="translate(527.8,263.6) rotate(-90) scale(0.86,1)" font-size="11.5" font-weight="bold" fill="#222">SS<tspan font-size="7" dy="2.5">½</tspan></text>
<line x1="553.8" y1="361.40" x2="787.6" y2="361.40" stroke="#635956" stroke-width="1.4"/>
<text x="549.80" y="364.10" text-anchor="end" font-size="7.6" font-weight="bold" fill="#6a6a6a">3.0</text>
<line x1="553.8" y1="374.43" x2="787.6" y2="374.43" stroke="#635956" stroke-width="1.4"/>
<text x="549.80" y="377.13" text-anchor="end" font-size="7.6" font-weight="bold" fill="#6a6a6a">2.8</text>
<line x1="553.8" y1="387.46" x2="787.6" y2="387.46" stroke="#635956" stroke-width="1.4"/>
<text x="549.80" y="390.16" text-anchor="end" font-size="7.6" font-weight="bold" fill="#6a6a6a">2.6</text>
<line x1="553.8" y1="400.49" x2="787.6" y2="400.49" stroke="#635956" stroke-width="1.4"/>
<text x="549.80" y="403.19" text-anchor="end" font-size="7.6" font-weight="bold" fill="#6a6a6a">2.4</text>
<line x1="553.8" y1="413.52" x2="787.6" y2="413.52" stroke="#635956" stroke-width="1.4"/>
<text x="549.80" y="416.22" text-anchor="end" font-size="7.6" font-weight="bold" fill="#6a6a6a">2.2</text>
<line x1="553.8" y1="426.55" x2="787.6" y2="426.55" stroke="#635956" stroke-width="1.4"/>
<text x="549.80" y="429.25" text-anchor="end" font-size="7.6" font-weight="bold" fill="#6a6a6a">2.0</text>
<line x1="553.8" y1="439.58" x2="787.6" y2="439.58" stroke="#635956" stroke-width="1.4"/>
<text x="549.80" y="442.28" text-anchor="end" font-size="7.6" font-weight="bold" fill="#6a6a6a">1.8</text>
<line x1="553.8" y1="452.61" x2="787.6" y2="452.61" stroke="#635956" stroke-width="1.4"/>
<text x="549.80" y="455.31" text-anchor="end" font-size="7.6" font-weight="bold" fill="#6a6a6a">1.6</text>
<line x1="553.8" y1="465.64" x2="787.6" y2="465.64" stroke="#635956" stroke-width="1.4"/>
<text x="549.80" y="468.34" text-anchor="end" font-size="7.6" font-weight="bold" fill="#6a6a6a">1.4</text>
<line x1="553.8" y1="478.67" x2="787.6" y2="478.67" stroke="#635956" stroke-width="1.4"/>
<text x="549.80" y="481.37" text-anchor="end" font-size="7.6" font-weight="bold" fill="#6a6a6a">1.2</text>
<line x1="553.8" y1="491.70" x2="787.6" y2="491.70" stroke="#635956" stroke-width="1.4"/>
<text x="549.80" y="494.40" text-anchor="end" font-size="7.6" font-weight="bold" fill="#6a6a6a">1.0</text>
<line x1="555.4" y1="360.79999999999995" x2="555.4" y2="492.3" stroke="#635956" stroke-width="1.3"/>
<line x1="787.6" y1="360.79999999999995" x2="787.6" y2="492.3" stroke="#8a807c" stroke-width="1.4"/>
<line x1="581.20" y1="491.7" x2="581.20" y2="493.9" stroke="#aaa" stroke-width="1"/>
<line x1="607.00" y1="491.7" x2="607.00" y2="493.9" stroke="#aaa" stroke-width="1"/>
<line x1="632.80" y1="491.7" x2="632.80" y2="493.9" stroke="#aaa" stroke-width="1"/>
<line x1="658.60" y1="491.7" x2="658.60" y2="493.9" stroke="#aaa" stroke-width="1"/>
<line x1="684.40" y1="491.7" x2="684.40" y2="493.9" stroke="#aaa" stroke-width="1"/>
<line x1="710.20" y1="491.7" x2="710.20" y2="493.9" stroke="#aaa" stroke-width="1"/>
<line x1="736.00" y1="491.7" x2="736.00" y2="493.9" stroke="#aaa" stroke-width="1"/>
<line x1="761.80" y1="491.7" x2="761.80" y2="493.9" stroke="#aaa" stroke-width="1"/>
<rect x="563.40" y="371.11" width="9.8" height="120.59" fill="#c2b9b6" stroke="#665c58" stroke-width="1.5"/>
<path d="M568.30,366.01V376.21M567.00,366.01H569.60M567.00,376.21H569.60" stroke="#3a3030" stroke-width="1" fill="none"/>
<rect x="589.20" y="387.13" width="9.8" height="104.57" fill="#c2b9b6" stroke="#665c58" stroke-width="1.5"/>
<path d="M594.10,380.53V393.73M592.80,380.53H595.40M592.80,393.73H595.40" stroke="#3a3030" stroke-width="1" fill="none"/>
<rect x="615.00" y="400.56" width="9.8" height="91.14" fill="#c2b9b6" stroke="#665c58" stroke-width="1.5"/>
<path d="M619.90,396.26V404.86M618.60,396.26H621.20M618.60,404.86H621.20" stroke="#3a3030" stroke-width="1" fill="none"/>
<rect x="640.80" y="413.59" width="9.8" height="78.11" fill="#c2b9b6" stroke="#665c58" stroke-width="1.5"/>
<path d="M645.70,408.19V418.99M644.40,408.19H647.00M644.40,418.99H647.00" stroke="#3a3030" stroke-width="1" fill="none"/>
<rect x="666.60" y="438.93" width="9.8" height="52.77" fill="#c2b9b6" stroke="#665c58" stroke-width="1.5"/>
<path d="M671.50,433.13V444.73M670.20,433.13H672.80M670.20,444.73H672.80" stroke="#3a3030" stroke-width="1" fill="none"/>
<rect x="692.40" y="452.87" width="9.8" height="38.83" fill="#c2b9b6" stroke="#665c58" stroke-width="1.5"/>
<path d="M697.30,447.47V458.27M696.00,447.47H698.60M696.00,458.27H698.60" stroke="#3a3030" stroke-width="1" fill="none"/>
<rect x="718.20" y="460.10" width="9.8" height="31.60" fill="#c2b9b6" stroke="#665c58" stroke-width="1.5"/>
<path d="M723.10,454.90V465.30M721.80,454.90H724.40M721.80,465.30H724.40" stroke="#3a3030" stroke-width="1" fill="none"/>
<rect x="744.00" y="462.77" width="9.8" height="28.93" fill="#c2b9b6" stroke="#665c58" stroke-width="1.5"/>
<path d="M748.90,457.87V467.67M747.60,457.87H750.20M747.60,467.67H750.20" stroke="#3a3030" stroke-width="1" fill="none"/>
<rect x="769.80" y="451.31" width="9.8" height="40.39" fill="#c2b9b6" stroke="#665c58" stroke-width="1.5"/>
<path d="M774.70,444.71V457.91M773.40,444.71H776.00M773.40,457.91H776.00" stroke="#3a3030" stroke-width="1" fill="none"/>
<text x="594.80" y="375.50" text-anchor="middle" font-size="13.8" fill="#3a3a3a">*</text>
<text x="620.70" y="388.60" text-anchor="middle" font-size="13.8" fill="#3a3a3a">*</text>
<text x="646.60" y="402.40" text-anchor="middle" font-size="13.8" fill="#3a3a3a">*</text>
<text x="672.20" y="427.70" text-anchor="middle" font-size="13.8" fill="#3a3a3a">*</text>
<text x="698.80" y="441.00" text-anchor="middle" font-size="13.8" fill="#3a3a3a">*</text>
<text x="723.60" y="452.00" text-anchor="middle" font-size="13.8" fill="#3a3a3a">*</text>
<text x="750.10" y="452.80" text-anchor="middle" font-size="13.8" fill="#3a3a3a">*</text>
<text x="775.90" y="440.20" text-anchor="middle" font-size="13.8" fill="#3a3a3a">*</text>
<path d="M696.4,408.8V405H775.3V408.8" fill="none" stroke="#111" stroke-width="1.7" stroke-linejoin="round"/>
<path d="M723.4,421.9V417.9H751V421.9" fill="none" stroke="#111" stroke-width="1.7" stroke-linejoin="round"/>
<text transform="translate(758.6,385.9) scale(0.915,1)" font-size="23" fill="#000">D</text>
<text x="562.1" y="511.5" font-size="10.3" font-weight="bold" fill="#222">C</text>
<text x="576.2" y="511.5" font-size="10.3" font-weight="bold" fill="#222">0.25%</text>
<text x="607.9" y="511.5" font-size="10.3" font-weight="bold" fill="#222">0.50%</text>
<text x="643.1" y="511.5" font-size="10.3" font-weight="bold" fill="#222">1%</text>
<text x="664.3" y="511.5" font-size="10.3" font-weight="bold" fill="#222">2%</text>
<text x="689.3" y="511.5" font-size="10.3" font-weight="bold" fill="#222">3%</text>
<text x="714.5" y="511.5" font-size="10.3" font-weight="bold" fill="#222">4%</text>
<text x="738.6" y="511.5" font-size="10.3" font-weight="bold" fill="#222">5%</text>
<text x="766.5" y="511.5" font-size="10.3" font-weight="bold" fill="#222">6%</text>
<text transform="translate(530.9,456.2) rotate(-90) scale(0.92,1)" font-size="11.5" font-weight="bold" fill="#222">SS<tspan font-size="7" dy="2.5">½</tspan><tspan dy="-2.5"> / EI</tspan><tspan font-size="7" font-weight="normal" dy="2.5">max</tspan></text>
</svg>
</body></html>
